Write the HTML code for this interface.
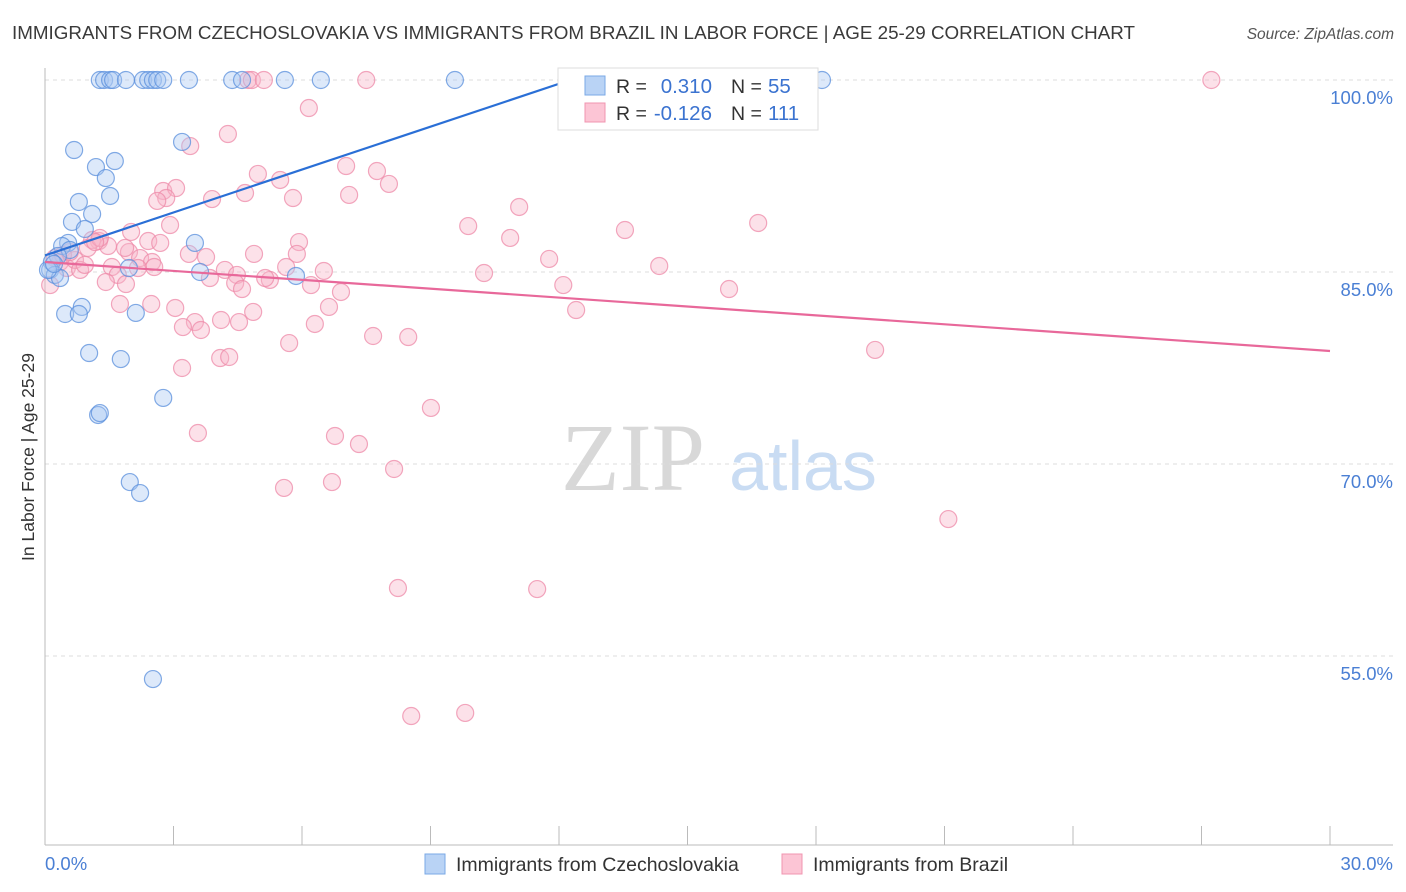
<!DOCTYPE html>
<html><head><meta charset="utf-8"><style>
body{margin:0;background:#fff;font-family:"Liberation Sans",sans-serif;}
svg{display:block}
</style></head><body>
<svg id="chart" width="1406" height="892" xmlns="http://www.w3.org/2000/svg">
<text x="12" y="39" font-size="18.8" fill="#3a3a3a" textLength="1123" lengthAdjust="spacingAndGlyphs">IMMIGRANTS FROM CZECHOSLOVAKIA VS IMMIGRANTS FROM BRAZIL IN LABOR FORCE | AGE 25-29 CORRELATION CHART</text>
<text x="1394" y="39" font-size="15.5" fill="#555" font-style="italic" text-anchor="end">Source: ZipAtlas.com</text>
<g>
<text x="633" y="490" font-size="96" fill="#d8d8d8" font-family="Liberation Serif,serif" text-anchor="middle">ZIP</text>
<text x="803" y="490" font-size="70" fill="#c9dcf3" text-anchor="middle">atlas</text>
</g>
<g id="grid"></g>
<g id="axes"></g>
<g id="pts"></g>
<g id="lines"></g>
<text transform="translate(34,457) rotate(-90)" font-size="17.5" fill="#333" text-anchor="middle">In Labor Force | Age 25-29</text>
<text x="45" y="870" font-size="18.5" fill="#4a7fd4">0.0%</text>
<text x="1393" y="870" font-size="18.5" fill="#4a7fd4" text-anchor="end">30.0%</text>
<g>
<rect x="558" y="68" width="260" height="62" fill="#fff" stroke="#ddd"/>
<rect x="585" y="76" width="20" height="19" fill="#b9d3f5" stroke="#7aa8e6"/>
<rect x="585" y="103" width="20" height="19" fill="#fcc5d5" stroke="#f095b0"/>
<text x="616" y="93" font-size="19.5" fill="#333">R = </text><text x="712" y="93" font-size="20.5" fill="#3b73d0" text-anchor="end">0.310</text>
<text x="731" y="93" font-size="19.5" fill="#333">N = </text><text x="768" y="93" font-size="20.5" fill="#3b73d0">55</text>
<text x="616" y="120" font-size="19.5" fill="#333">R = </text><text x="712" y="120" font-size="20.5" fill="#3b73d0" text-anchor="end">-0.126</text>
<text x="731" y="120" font-size="19.5" fill="#333">N = </text><text x="768" y="120" font-size="20.5" fill="#3b73d0">111</text>
</g>
<g>
<rect x="425" y="854" width="20" height="20" fill="#b9d3f5" stroke="#7aa8e6"/>
<text x="456" y="871" font-size="19.5" fill="#333">Immigrants from Czechoslovakia</text>
<rect x="782" y="854" width="20" height="20" fill="#fcc5d5" stroke="#f095b0"/>
<text x="813" y="871" font-size="19.5" fill="#333">Immigrants from Brazil</text>
</g>
</svg>
<script>
const yTicks=[100,85,70,55];
const yTickLabels=["100.0%","85.0%","70.0%","55.0%"];
const xTicks=[0,3,6,9,12,15,18,21,24,27,30];
const blueX=[1.28,1.38,1.52,1.59,1.89,2.29,2.41,2.52,2.62,2.76,3.36,4.37,4.60,5.60,6.44,9.57,18.14,3.20,0.68,1.19,1.63,1.42,0.79,1.52,1.10,0.63,0.93,3.50,0.54,0.40,0.58,0.30,0.16,0.12,0.23,0.35,1.96,3.62,5.86,0.86,0.47,0.79,2.12,1.03,1.77,1.24,1.28,2.76,1.98,2.22,2.52,0.07,0.21];
const blueY=[100,100,100,100,100,100,100,100,100,100,100,100,100,100,100,100,100,95.16,94.53,93.2,93.67,92.34,90.47,90.94,89.53,88.91,88.36,87.27,87.27,87.03,86.72,86.25,85.78,85.16,84.77,84.53,85.31,85.0,84.69,82.27,81.72,81.72,81.8,78.67,78.2,73.83,73.98,75.16,68.59,67.73,53.2,85.16,85.63];
const pinkX=[4.74,4.83,5.11,7.50,27.23,6.16,4.27,3.39,4.97,5.49,7.03,7.75,8.03,2.76,3.06,2.83,2.62,3.90,4.67,5.79,7.10,11.07,2.92,2.01,2.41,2.69,1.26,1.47,1.10,3.36,3.76,4.88,5.93,5.88,9.88,10.86,13.54,16.65,1.96,2.22,2.50,1.56,1.70,2.55,4.20,4.48,5.63,5.25,6.51,10.25,11.77,14.34,1.42,1.89,3.85,4.44,4.60,5.14,6.21,6.91,12.10,15.97,1.75,2.48,3.04,3.50,3.64,4.11,4.53,4.86,6.63,6.30,12.40,7.66,8.48,5.70,3.22,3.20,4.09,4.30,9.01,3.57,6.77,7.33,8.15,6.70,5.58,8.24,11.49,8.55,9.81,19.38,21.09,0.35,0.51,0.70,0.82,0.93,0.23,0.12,0.42,1.0,1.28,0.58,1.17,1.87,2.17];
const pinkY=[100,100,100,100,100,97.81,95.78,94.84,92.66,92.19,93.28,92.89,91.88,91.33,91.56,90.78,90.55,90.70,91.17,90.78,91.02,90.08,88.67,88.13,87.42,87.27,87.42,87.03,87.5,86.41,86.17,86.41,87.34,86.41,88.59,87.66,88.28,88.83,86.56,86.09,85.78,85.39,84.77,85.39,85.16,84.77,85.39,84.38,85.08,84.92,86.02,85.47,84.22,84.06,84.53,84.14,83.67,84.53,83.98,83.44,83.98,83.67,82.5,82.5,82.19,81.09,80.47,81.25,81.09,81.88,82.27,80.94,82.03,80.0,79.92,79.45,80.70,77.5,78.28,78.36,74.38,72.42,72.19,71.56,69.61,68.59,68.13,60.31,60.23,50.31,50.55,78.91,65.70,85.78,85.31,85.94,85.16,85.55,86.09,83.98,86.33,86.88,87.66,86.56,87.34,86.88,85.31];
const blueTrend=[86.3,1.117];
const pinkTrend=[85.78,-0.2317];
const NS="http://www.w3.org/2000/svg";
const X=v=>45+v*(1285/30);
const Y=v=>80+(100-v)*12.8;
function mk(t,a,p){const e=document.createElementNS(NS,t);for(const k in a)e.setAttribute(k,a[k]);p.appendChild(e);return e;}
const grid=document.getElementById('grid'),axes=document.getElementById('axes'),pts=document.getElementById('pts'),lines=document.getElementById('lines');
yTicks.forEach((t,i)=>{
 const l=mk('line',{x1:45,x2:1393,y1:Y(t),y2:Y(t),stroke:'#ddd','stroke-dasharray':'4,4'},grid);
 
 
 const tx=mk('text',{x:1393,y:Y(t)+24,'font-size':18.5,fill:'#4a7fd4','text-anchor':'end'},grid);
 tx.textContent=yTickLabels[i];
 
 
});
const ya=mk('line',{x1:45,x2:45,y1:68,y2:845,stroke:'#bbb'},axes);


const xa=mk('line',{x1:45,x2:1393,y1:845,y2:845,stroke:'#bbb'},axes);


xTicks.forEach(t=>{
 const l=mk('line',{x1:X(t),x2:X(t),y1:826,y2:845,stroke:'#bbb'},axes);
 
 
});
function dots(xs,ys,fill,stroke,name){
 xs.forEach((x,i)=>{
  const c=mk('circle',{cx:X(x),cy:Y(ys[i]),r:8.5,fill:fill,'fill-opacity':0.4,stroke:stroke,'stroke-opacity':0.75,'stroke-width':1.2},pts);
  
  
 });
}
dots(pinkX,pinkY,'#f8b5c9','#ee8aa8','brazil-point');
dots(blueX,blueY,'#a9c8f2','#5a8fdc','czechoslovakia-point');
let bx2=(100-blueTrend[0])/blueTrend[1];
const bl=mk('line',{x1:X(0),y1:Y(blueTrend[0]),x2:X(bx2),y2:Y(100),stroke:'#2a6fd6','stroke-width':2.2},lines);


const pl=mk('line',{x1:X(0),y1:Y(pinkTrend[0]),x2:X(30),y2:Y(pinkTrend[0]+30*pinkTrend[1]),stroke:'#e8689a','stroke-width':2.2},lines);


</script>
</body></html>
